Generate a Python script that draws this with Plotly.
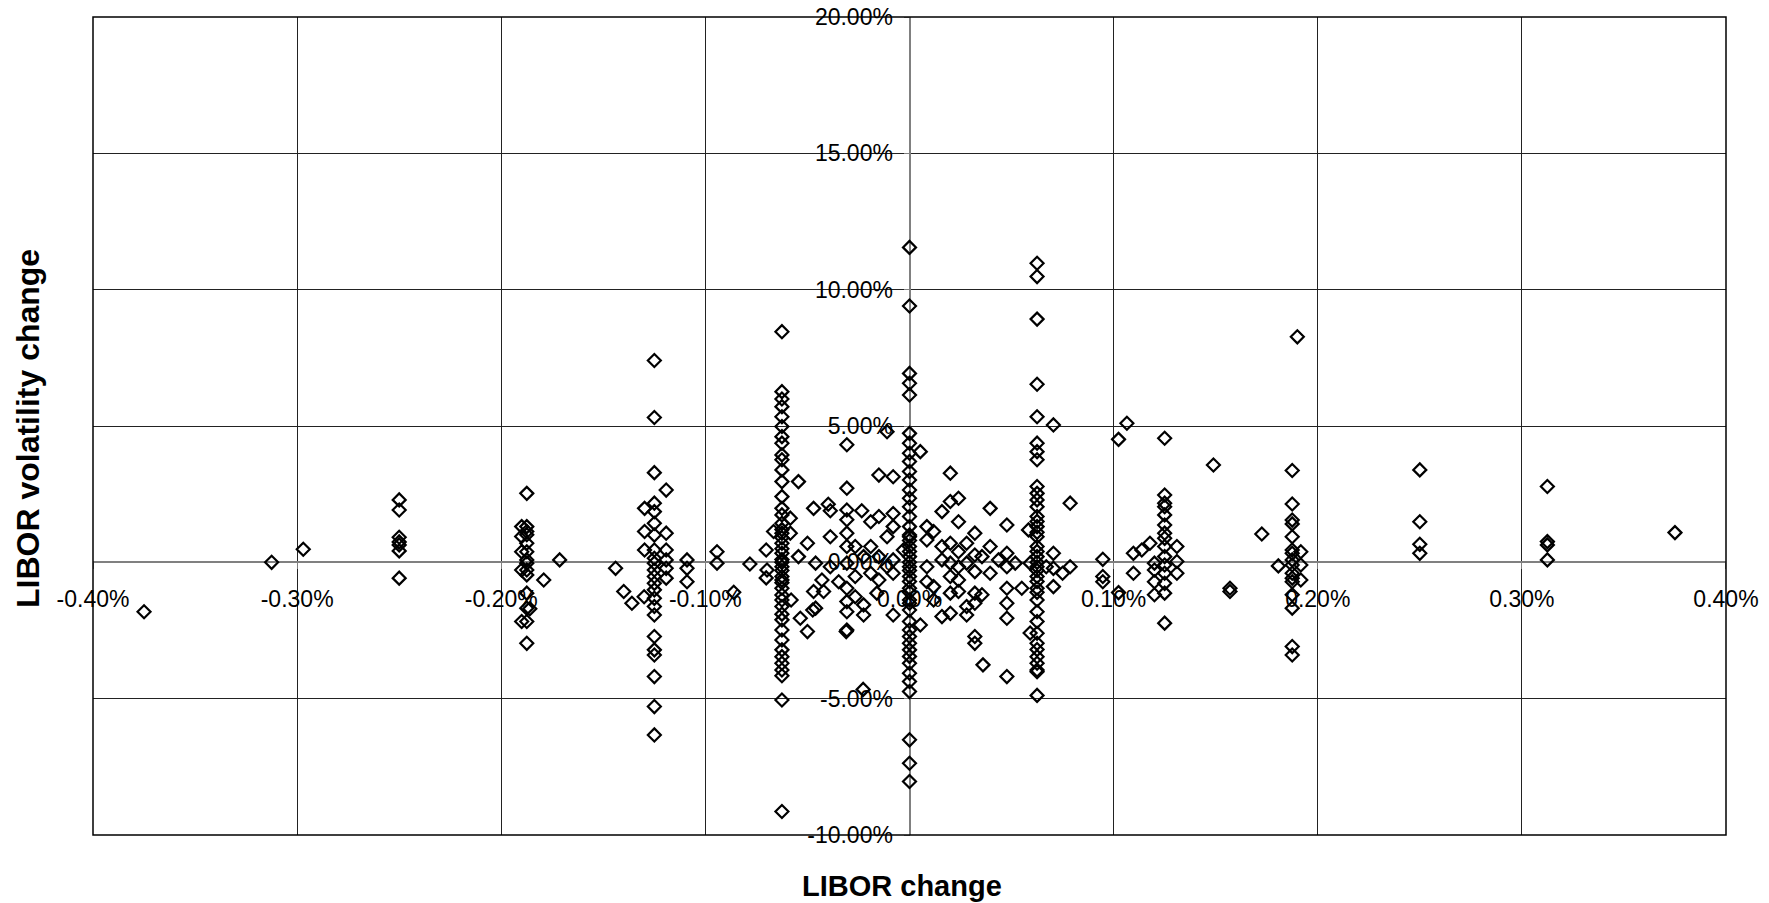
import plotly.graph_objects as go

# ---- data (percent units) ----
y_at_m0375 = [-1.81]
y_at_m03125 = [0.0]
y_at_m025 = [2.29, 1.92, 0.92, 0.75, 0.64, 0.42, -0.58]
y_at_m01875 = [2.53, 1.31, 1.13, 1.01, 0.70, 0.39, 0.09, -0.03, -0.28, -0.46,
               -1.13, -1.68, -2.17, -2.97]
y_at_m0125 = [7.40, 5.31, 3.29, 2.17, 1.86, 1.43, 1.00, 0.45, 0.15, -0.03, -0.28,
              -0.52, -0.77, -1.01, -1.32, -1.62, -1.93, -2.72, -3.21, -3.40, -4.19,
              -5.29, -6.33]
y_at_m00625 = [8.46, 6.26, 5.99, 5.71, 5.34, 4.98, 4.61, 4.37, 3.94, 3.76, 3.39, 2.96,
               2.41, 1.98, 1.74, 1.43, 1.2, 1.07, 0.9, 0.70, 0.5, 0.33, 0.1, 0.0,
               -0.16, -0.3, -0.52, -0.65, -0.75, -0.95, -1.2, -1.38, -1.62, -1.9,
               -2.11, -2.48, -2.85, -3.21, -3.46, -3.7, -3.95, -4.16, -5.05, -9.14]
y_at_0 = [11.55, 9.40, 6.93, 6.57, 6.14, 4.73, 4.37, 4.0, 3.70, 3.33, 3.02, 2.65,
          2.35, 2.04, 1.68, 1.31, 1.0, 0.94, 0.8, 0.58, 0.4, 0.21, 0.0, -0.16, -0.3,
          -0.52, -0.7, -0.95, -1.1, -1.38, -1.5, -1.75, -2.17, -2.48, -2.72, -2.97,
          -3.21, -3.45, -3.70, -4.07, -4.37, -4.74, -6.51, -7.37, -8.04]
y_at_p00625 = [10.97, 10.48, 8.92, 6.53, 5.34, 4.37, 4.06, 3.76, 2.78, 2.53, 2.29,
               2.04, 1.68, 1.5, 1.31, 1.1, 0.94, 0.58, 0.4, 0.21, 0.0, -0.16, -0.3,
               -0.52, -0.7, -0.95, -1.1, -1.38, -1.81, -2.17, -2.60, -2.97, -3.20,
               -3.46, -3.70, -3.95, -4.01, -4.88]
y_at_p0125 = [4.55, 2.47, 2.17, 2.04, 1.74, 1.37, 1.07, 0.88, 0.58, 0.21, -0.10,
              -0.40, -0.77, -1.13, -2.23]
y_at_p01875 = [3.37, 2.14, 1.55, 1.41, 0.94, 0.45, 0.33, 0.09, -0.10, -0.40, -0.58,
               -0.71, -1.19, -1.68, -3.09, -3.40]
y_at_p025 = [3.39, 1.49, 0.66, 0.33]
y_at_p03125 = [2.78, 0.76, 0.64, 0.09]
y_at_p0375 = [1.09]

column_x = [-0.375, -0.3125, -0.25, -0.1875, -0.125, -0.0625, 0.0,
            0.0625, 0.125, 0.1875, 0.25, 0.3125, 0.375]
column_y = [y_at_m0375, y_at_m03125, y_at_m025, y_at_m01875, y_at_m0125,
            y_at_m00625, y_at_0, y_at_p00625, y_at_p0125, y_at_p01875,
            y_at_p025, y_at_p03125, y_at_p0375]

scatter_x = [
    -0.297,
    -0.19, -0.19, -0.19, -0.19, -0.19, -0.186,
    -0.1714, -0.1792,
    -0.144, -0.140, -0.136, -0.130,
    -0.1298, -0.1298, -0.1298,
    -0.1192, -0.1192, -0.1192, -0.1192, -0.1192, -0.1192,
    -0.109, -0.109, -0.109,
    -0.0943, -0.0943, -0.0861, -0.0782,
    -0.0702, -0.0702, -0.0698, -0.0666,
    -0.0584, -0.0584, -0.058,
    -0.0544, -0.0544, -0.0535,
    -0.050, -0.050,
    -0.047, -0.047, -0.046, -0.046, -0.0474,
    -0.0429, -0.0421,
    -0.0398, -0.0388, -0.0388, -0.0388, -0.0347,
    -0.0307, -0.0307, -0.0307, -0.0307, -0.0307, -0.0307, -0.0307, -0.0307,
    -0.0307, -0.0307, -0.0307, -0.031,
    -0.0266, -0.0266, -0.0266,
    -0.0234, -0.0225, -0.0225, -0.0225, -0.0227,
    -0.019, -0.019, -0.019, -0.016,
    -0.015, -0.015, -0.015, -0.015,
    -0.011, -0.011, -0.011,
    -0.008, -0.008, -0.008, -0.008, -0.008, -0.008,
    -0.003,
    0.0053, 0.0053,
    0.0085, 0.0085, 0.0085, 0.0085,
    0.0118, 0.0118, 0.0118,
    0.0159, 0.0159, 0.0159, 0.0159,
    0.020, 0.020, 0.020, 0.020, 0.020, 0.020, 0.020,
    0.024, 0.024, 0.024, 0.024, 0.024, 0.024,
    0.028, 0.028, 0.028, 0.028,
    0.032, 0.032, 0.032, 0.032, 0.032, 0.032, 0.032,
    0.0355, 0.0355, 0.036,
    0.0395, 0.0395, 0.0395, 0.0436,
    0.0477, 0.0477, 0.0477, 0.0477, 0.0477, 0.0477, 0.0477,
    0.0518, 0.055, 0.0591, 0.0591, 0.0583,
    0.0705, 0.0787, 0.0705, 0.0705, 0.075, 0.0787, 0.067, 0.0705,
    0.0947, 0.0947, 0.0947,
    0.1024, 0.1065, 0.1024,
    0.1097, 0.1097, 0.1138, 0.1178, 0.120, 0.120, 0.120, 0.120,
    0.131, 0.131, 0.131,
    0.1489, 0.157, 0.157, 0.1726, 0.1807,
    0.1917, 0.1917, 0.1917, 0.19,
]
scatter_y = [
    0.48,
    1.31, 0.95, 0.39, -0.28, -2.17, -1.7,
    0.09, -0.65,
    -0.22, -1.07, -1.50, -1.26,
    1.98, 1.13, 0.45,
    2.65, 1.07, 0.45, 0.09, -0.22, -0.58,
    0.09, -0.22, -0.71,
    0.39, -0.03, -1.10, -0.06,
    0.45, -0.57, -0.28, 1.13,
    1.62, 1.07, -1.38,
    2.96, 0.21, -2.05,
    0.70, -2.54,
    1.98, -1.07, -0.03, -1.68, -1.75,
    -0.65, -1.07,
    2.13, 1.89, 0.94, -0.16, -0.71,
    4.31, 2.72, 1.92, 1.56, 1.07, 0.58, -0.03, -0.95,
    -1.44, -1.81, -2.48, -2.54,
    0.58, -0.52, -1.26,
    1.89, 0.21, -1.56, -1.93, -4.66,
    1.49, 0.58, -0.40, -1.13,
    3.20, 1.68, 0.21, -0.65,
    4.79, 0.94, -0.16,
    3.14, 1.79, 1.31, 0.09, -0.40, -1.93,
    0.45,
    4.06, -2.30,
    1.31, 0.82, -0.16, -0.71,
    1.13, -0.89, -1.38,
    1.86, 0.58, 0.09, -1.99,
    3.27, 2.23, 0.70, -0.03, -0.52, -1.13, -1.87,
    2.35, 1.49, 0.39, -0.16, -0.65, -1.07,
    0.70, -0.03, -1.62, -1.93,
    1.07, 0.27, -0.34, -1.13, -1.50, -2.72, -2.97,
    0.21, -1.19, -3.76,
    1.98, 0.58, -0.40, 0.09,
    1.37, 0.33, -0.16, -0.95, -1.50, -2.05, -4.19,
    -0.03, -0.95, -0.03, -2.59, 1.19,
    5.04, 2.17, 0.33, -0.89, -0.40, -0.16, -0.16, -0.22,
    0.11, -0.52, -0.71,
    4.51, 5.10, -1.11,
    0.33, -0.40, 0.45, 0.70, -0.03, -0.28, -0.71, -1.19,
    0.58, 0.03, -0.40,
    3.57, -0.95, -1.07, 1.04, -0.13,
    0.39, -0.10, -0.65, 8.27,
]

x_tick_values = [-0.004, -0.003, -0.002, -0.001, 0.0, 0.001, 0.002, 0.003, 0.004]
x_tick_labels = ["-0.40%", "-0.30%", "-0.20%", "-0.10%", "0.00%",
                 "0.10%", "0.20%", "0.30%", "0.40%"]
y_tick_values = [-0.10, -0.05, 0.0, 0.05, 0.10, 0.15, 0.20]
y_tick_labels = ["-10.00%", "-5.00%", "0.00%", "5.00%", "10.00%", "15.00%", "20.00%"]

# ---- assemble points ----
xs, ys = [], []
for cx, cy in zip(column_x, column_y):
    for v in cy:
        xs.append(cx / 100)
        ys.append(v / 100)
for sx, sy in zip(scatter_x, scatter_y):
    xs.append(sx / 100)
    ys.append(sy / 100)

FONT = "Liberation Sans, Arial, sans-serif"

fig = go.Figure()
fig.add_trace(go.Scatter(
    x=xs, y=ys, mode="markers",
    marker=dict(symbol="diamond-open", size=10, color="black",
                line=dict(color="black", width=2.2)),
    hoverinfo="x+y",
))

fig.update_layout(
    width=1769, height=903,
    margin=dict(l=85, r=51, t=9, b=76),
    plot_bgcolor="white", paper_bgcolor="white",
    showlegend=False,
    font=dict(family=FONT, color="black"),
    xaxis=dict(
        range=[-0.0040001, 0.0040001], tickvals=x_tick_values, ticktext=x_tick_labels,
        showgrid=True, gridcolor="#222", gridwidth=1,
        zeroline=True, zerolinecolor="#808080", zerolinewidth=2,
        anchor="free", position=1/3, ticks="outside", ticklen=6,
        tickcolor="#808080", showline=False, layer="below traces",
        tickfont=dict(size=23, family=FONT, color="black"),
        ticklabelstandoff=10, automargin=False, ticklabeloverflow="allow",
    ),
    yaxis=dict(
        range=[-0.1000001, 0.2000001], tickvals=y_tick_values, ticktext=y_tick_labels,
        showgrid=True, gridcolor="#222", gridwidth=1,
        zeroline=True, zerolinecolor="#808080", zerolinewidth=2,
        anchor="free", position=0.5, ticks="outside", ticklen=6,
        tickcolor="#808080", showline=False, layer="below traces",
        tickfont=dict(size=23, family=FONT, color="black"),
        ticklabelstandoff=6, automargin=False, ticklabeloverflow="allow",
    ),
    shapes=[dict(type="rect", xref="paper", yref="paper", x0=0, x1=1, y0=0, y1=1,
                 line=dict(color="black", width=1.5), layer="above")],
    annotations=[
        dict(text="<b>LIBOR change</b>", xref="paper", yref="paper", x=0.5, y=0,
             xanchor="center", yanchor="middle", xshift=-8, yshift=-51,
             showarrow=False,
             font=dict(size=29, family=FONT, color="black")),
        dict(text="<b>LIBOR volatility change</b>", xref="paper", yref="paper",
             x=0, y=0.5, xanchor="center", yanchor="middle", xshift=-65,
             yshift=-3, textangle=-90, showarrow=False, borderpad=0,
             font=dict(size=32, family=FONT, color="black")),
    ],
)

fig.write_html("out.html")
